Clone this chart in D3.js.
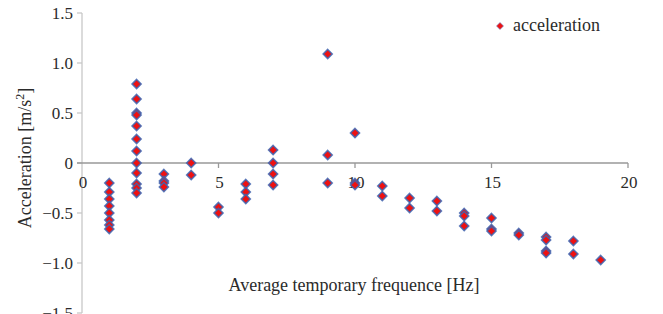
<!DOCTYPE html>
<html><head><meta charset="utf-8">
<script src="https://cdn.jsdelivr.net/npm/d3@7"></script>
<style>html,body{margin:0;padding:0;background:#fff;}svg{display:block;}</style>
</head><body>
<svg id="c" width="663" height="314"></svg>
<script>
// frequency [Hz]
const freq = [1,1,1,1,1,1,1,1,
  2,2,2,2,2,2,2,2,2,2,2,2,
  3,3,3,3,
  4,4,
  5,5,
  6,6,6,
  7,7,7,7,
  9,9,9,
  10,10,10,
  11,11,
  12,12,
  13,13,
  14,14,14,
  15,15,15,
  16,16,
  17,17,17,17,
  18,18,
  19];
// acceleration [m/s2]
const accel = [-0.2,-0.29,-0.36,-0.43,-0.5,-0.57,-0.62,-0.66,
  0.79,0.64,0.5,0.48,0.37,0.24,0.12,0,-0.1,-0.21,-0.25,-0.3,
  -0.11,-0.18,-0.2,-0.24,
  0,-0.12,
  -0.44,-0.5,
  -0.21,-0.29,-0.36,
  0.13,0,-0.11,-0.22,
  1.09,0.08,-0.2,
  0.3,-0.2,-0.22,
  -0.23,-0.33,
  -0.35,-0.45,
  -0.38,-0.48,
  -0.5,-0.53,-0.63,
  -0.55,-0.66,-0.68,
  -0.7,-0.72,
  -0.74,-0.77,-0.88,-0.9,
  -0.78,-0.91,
  -0.97];
const xTicks = [0,5,10,15,20];
const yTicks = [1.5,1.0,0.5,0,-0.5,-1.0,-1.5];
const yTickLabels = ["1.5","1.0","0.5","0","\u22120.5","\u22121.0","\u22121.5"];
const seriesName = "acceleration";

const svg = d3.select("#c");
const x = d3.scaleLinear().domain([0,20]).range([82,628]);
const y = d3.scaleLinear().domain([-1.5,1.5]).range([313,13]);
const FS = 17, FT = 18;
const txt = "#2b2b2b";
const FF = "Liberation Serif";

// vertical axis
svg.append("line").attr("x1",x(0)).attr("x2",x(0)).attr("y1",y(1.5)).attr("y2",y(-1.5))
  .attr("stroke","#c8c8c8").attr("stroke-width",1.3);
svg.selectAll(".yt").data(yTicks).enter().append("line")
  .attr("x1",x(0)-5).attr("x2",x(0)).attr("y1",d=>y(d)).attr("y2",d=>y(d))
  .attr("stroke","#c8c8c8").attr("stroke-width",1.3);
svg.selectAll(".yl").data(yTicks).enter().append("text")
  .attr("x",x(0)-9).attr("y",d=>y(d)+6).attr("text-anchor","end")
  .attr("font-family",FF)
  .attr("font-size",FS).attr("fill",txt)
  .text((d,i)=>yTickLabels[i]);

// zero line (x axis)
svg.append("line").attr("x1",x(0)-5).attr("x2",x(20)).attr("y1",y(0)).attr("y2",y(0))
  .attr("stroke","#999").attr("stroke-width",1.3);
svg.selectAll(".xt").data(xTicks.slice(1)).enter().append("line")
  .attr("x1",d=>x(d)).attr("x2",d=>x(d)).attr("y1",y(0)).attr("y2",y(0)+5)
  .attr("stroke","#999").attr("stroke-width",1.3);
svg.selectAll(".xl").data(xTicks).enter().append("text")
  .attr("x",d=>x(d)+1).attr("y",y(0)+25).attr("text-anchor","middle")
  .attr("font-family",FF)
  .attr("font-size",FS).attr("fill",txt).text(d=>d);

// points
const diamond = "M0,-4.5L4.5,0L0,4.5L-4.5,0Z";
const pts = freq.map((f,i)=>({f, a:accel[i]}));
svg.selectAll(".pt").data(pts).enter().append("path")
  .attr("d",diamond)
  .attr("transform",d=>`translate(${x(d.f)},${y(d.a)})`)
  .attr("fill","#ee1111").attr("stroke","#3d64b0").attr("stroke-width",1.6)
  .attr("stroke-opacity",0.85);

// legend
svg.append("path").attr("d","M0,-3.5L3.5,0L0,3.5L-3.5,0Z")
  .attr("transform","translate(500,26)").attr("fill","#ee1111")
  .attr("stroke","#6a7fc0").attr("stroke-width",0.6);
svg.append("text").attr("x",513).attr("y",31).attr("font-family",FF).attr("font-size",FT).attr("fill",txt).text(seriesName);

// axis titles
svg.append("text").attr("x",354).attr("y",291).attr("text-anchor","middle")
  .attr("font-family",FF)
  .attr("font-size",FT).attr("fill",txt).text("Average temporary frequence [Hz]");
const yl = svg.append("text").attr("transform","translate(31,158) rotate(-90)")
  .attr("font-family",FF)
  .attr("text-anchor","middle").attr("font-size",FT).attr("fill",txt);
yl.append("tspan").text("Acceleration [m/s");
yl.append("tspan").attr("dy",-7).attr("font-size",12).text("2");
yl.append("tspan").attr("dy",7).text("]");
</script>
</body></html>
